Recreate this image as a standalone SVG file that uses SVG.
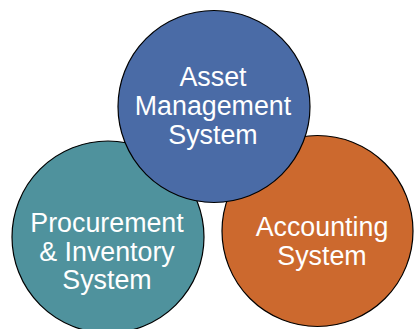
<svg xmlns="http://www.w3.org/2000/svg" width="414" height="329" viewBox="0 0 414 329">
<style>
.c{stroke:#000;stroke-width:1.2}
.t{font-family:"Liberation Sans",Arial,Helvetica,sans-serif;font-size:26.8px;fill:#fff;text-anchor:middle}
</style>
<rect width="414" height="329" fill="#fff"/>
<g id="accounting">
<circle class="c" cx="317.5" cy="231" r="95.5" fill="#cc692e"/>
<text class="t" x="322" y="236">Accounting</text>
<text class="t" x="322" y="265">System</text>
</g>
<g id="procurement">
<circle class="c" cx="108" cy="237" r="96" fill="#4f929d"/>
<text class="t" x="107" y="232">Procurement</text>
<text class="t" x="107" y="261">&amp; Inventory</text>
<text class="t" x="107" y="289">System</text>
</g>
<g id="asset">
<circle class="c" cx="214" cy="106.5" r="96" fill="#4a6ba6"/>
<text class="t" x="213" y="86">Asset</text>
<text class="t" x="213" y="115">Management</text>
<text class="t" x="213" y="144">System</text>
</g>
<g id="connectors"/>
</svg>
